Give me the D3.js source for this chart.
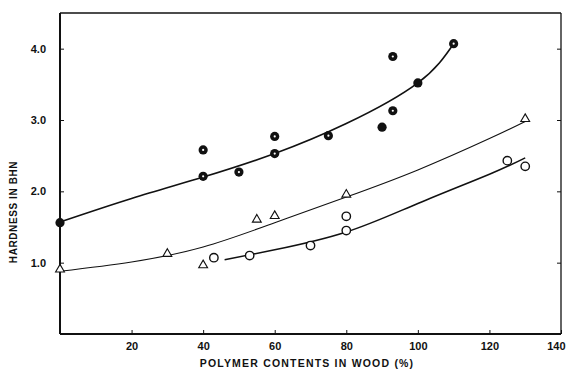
<!DOCTYPE html>
<html>
<head>
<meta charset="utf-8">
<script src="https://cdn.jsdelivr.net/npm/d3@7"></script>
<style>
  body { margin: 0; background: #fff; }
</style>
</head>
<body>
<div id="chart"></div>
<script>
let width = 566;
let height = 372;

// x ticks / y ticks
let xTicks = [20, 40, 60, 80, 100, 120, 140];
let yTicks = [1, 2, 3, 4];

// filled circles (dot = small white center)
let filledX = [0, 40, 40, 50, 60, 60, 75, 90, 93, 93, 100, 110];
let filledY = [1.56, 2.58, 2.21, 2.27, 2.77, 2.53, 2.78, 2.9, 3.89, 3.13, 3.52, 4.07];
let filledDot = [false, true, true, true, true, true, true, false, true, true, false, true];

// open triangles
let triX = [0, 30, 40, 55, 60, 80, 130];
let triY = [0.89, 1.11, 0.95, 1.59, 1.64, 1.94, 3.0];

// open circles
let openX = [43, 53, 70, 80, 80, 125, 130];
let openY = [1.07, 1.1, 1.24, 1.65, 1.45, 2.43, 2.35];

// fitted curves
let fitTopX = [0, 20, 40, 60, 80, 100, 110];
let fitTopY = [1.57, 1.9, 2.2, 2.53, 2.95, 3.52, 4.07];
let fitTriX = [0, 20, 40, 60, 80, 100, 120, 130];
let fitTriY = [0.88, 1.01, 1.22, 1.56, 1.92, 2.3, 2.74, 2.98];
let fitOpenX = [46, 60, 80, 100, 120, 130];
let fitOpenY = [1.04, 1.18, 1.43, 1.83, 2.24, 2.47];

let svg = d3.select("#chart")
  .append("svg")
  .attr("width", width)
  .attr("height", height)
  .style("background-color", "#fff");

let x = d3.scaleLinear().domain([0, 140]).range([60, 561]);
let y = d3.scaleLinear().domain([0, 4.5]).range([334, 13]);

let font = "'Liberation Sans', Arial, sans-serif";

// frame
svg.append("line").attr("x1", x(0)).attr("x2", x(0)).attr("y1", y(4.5)).attr("y2", y(0))
  .attr("stroke", "#111").attr("stroke-width", 2);
svg.append("line").attr("x1", x(0)).attr("x2", x(140)).attr("y1", y(0)).attr("y2", y(0))
  .attr("stroke", "#111").attr("stroke-width", 2);
svg.append("line").attr("x1", x(0)).attr("x2", x(140)).attr("y1", y(4.5)).attr("y2", y(4.5))
  .attr("stroke", "#111").attr("stroke-width", 1.5);
svg.append("line").attr("x1", x(140)).attr("x2", x(140)).attr("y1", y(4.5)).attr("y2", y(0))
  .attr("stroke", "#111").attr("stroke-width", 1.3);

// axes
svg.append("g")
  .attr("transform", `translate(0, ${y(0)})`)
  .call(d3.axisBottom(x).tickValues(xTicks).tickSize(-4).tickPadding(8).tickFormat(d3.format("d")))
  .call(g => g.select(".domain").remove())
  .call(g => g.selectAll("line").attr("stroke", "#111"))
  .call(g => g.selectAll("text").attr("font-family", font).attr("font-weight", "bold")
    .attr("font-size", 11).attr("fill", "#111"))
  .call(g => g.selectAll("text").filter(d => d === 140).attr("text-anchor", "end").attr("dx", 4));

svg.append("g")
  .attr("transform", `translate(${x(0)}, 0)`)
  .call(d3.axisLeft(y).tickValues(yTicks).tickSize(-4).tickPadding(14).tickFormat(d3.format(".1f")))
  .call(g => g.select(".domain").remove())
  .call(g => g.selectAll("line").attr("stroke", "#111"))
  .call(g => g.selectAll("text").attr("font-family", font).attr("font-weight", "bold")
    .attr("font-size", 11).attr("fill", "#111"));

svg.append("g")
  .attr("transform", `translate(${x(140)}, 0)`)
  .call(d3.axisRight(y).tickValues(yTicks).tickSize(-4).tickFormat(""))
  .call(g => g.select(".domain").remove())
  .call(g => g.selectAll("line").attr("stroke", "#111"));

// axis titles
svg.append("text")
  .attr("x", 307)
  .attr("y", 367)
  .attr("text-anchor", "middle")
  .attr("font-family", font)
  .attr("font-weight", "bold")
  .attr("font-size", 10.5)
  .attr("letter-spacing", 1.2)
  .attr("fill", "#111")
  .text("POLYMER CONTENTS IN WOOD (%)");

svg.append("text")
  .attr("transform", "translate(17, 212) rotate(-90)")
  .attr("text-anchor", "middle")
  .attr("font-family", font)
  .attr("font-weight", "bold")
  .attr("font-size", 10)
  .attr("letter-spacing", 0.6)
  .attr("fill", "#111")
  .text("HARDNESS IN BHN");

// fitted curves
let line = d3.line().x(d => x(d[0])).y(d => y(d[1])).curve(d3.curveNatural);

function drawFit(xs, ys, w) {
  svg.append("path")
    .attr("d", line(xs.map((v, i) => [v, ys[i]])))
    .attr("fill", "none")
    .attr("stroke", "#111")
    .attr("stroke-width", w);
}
drawFit(fitTopX, fitTopY, 1.6);
drawFit(fitTriX, fitTriY, 1.1);
drawFit(fitOpenX, fitOpenY, 1.5);

// filled circles
svg.append("g")
  .selectAll("circle")
  .data(filledX.map((v, i) => [v, filledY[i]]))
  .join("circle")
  .attr("cx", d => x(d[0]))
  .attr("cy", d => y(d[1]))
  .attr("r", 4.6)
  .attr("fill", "#111");

svg.append("g")
  .selectAll("circle")
  .data(filledX.map((v, i) => [v, filledY[i], filledDot[i]]).filter(d => d[2]))
  .join("circle")
  .attr("cx", d => x(d[0]))
  .attr("cy", d => y(d[1]))
  .attr("r", 1.1)
  .attr("fill", "#fff");

// open triangles
let tri = d3.symbol().type(d3.symbolTriangle).size(34);
svg.append("g")
  .selectAll("path")
  .data(triX.map((v, i) => [v, triY[i]]))
  .join("path")
  .attr("d", tri)
  .attr("transform", d => `translate(${x(d[0])}, ${y(d[1]) - 1})`)
  .attr("fill", "#fff")
  .attr("stroke", "#111")
  .attr("stroke-width", 1.1);

// open circles
svg.append("g")
  .selectAll("circle")
  .data(openX.map((v, i) => [v, openY[i]]))
  .join("circle")
  .attr("cx", d => x(d[0]))
  .attr("cy", d => y(d[1]))
  .attr("r", 4.2)
  .attr("fill", "#fff")
  .attr("stroke", "#111")
  .attr("stroke-width", 1.4);
</script>
</body>
</html>
